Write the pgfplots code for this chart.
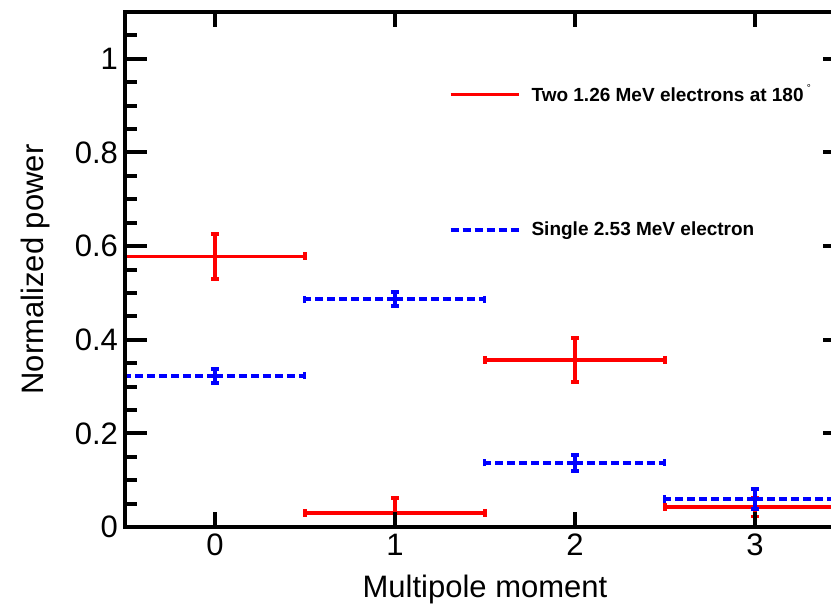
\documentclass[border=0pt]{standalone}
\usepackage{fontspec}
\setmainfont{Liberation Sans}
\usepackage{pgfplots}
\usepackage{pgfplotstable}
\pgfplotsset{compat=1.18}

% x, y, half width of multipole bin, y error
\pgfplotstableread{
x y ex ey
0 0.578 0.5 0.048
1 0.030 0.5 0.032
2 0.357 0.5 0.047
3 0.043 0.5 0.020
}\twoel
\pgfplotstableread{
x y ex ey
0 0.323 0.5 0.015
1 0.486 0.5 0.015
2 0.137 0.5 0.017
3 0.060 0.5 0.021
}\oneel

\begin{document}
\begin{tikzpicture}
\begin{axis}[
  name=ax,
  scale only axis, axis on top,
  width=360pt, height=257.5pt,
  xmin=-0.5, xmax=3.5, ymin=0, ymax=1.1,
  xtick={0,1,2,3},
  ytick={0,0.2,...,1.2},
  minor y tick num=3,
  tick align=inside,
  axis line style={line width=2pt},
  every tick/.style={black, line width=2pt},
  major tick length=11pt, minor tick length=6pt,
  xtick style={/pgfplots/major tick length=7.5pt},
  tick label style={font=\fontsize{15.5}{18}\selectfont},
  /pgf/number format/assume math mode=true,
  xlabel={Multipole moment}, ylabel={Normalized power},
  every axis y label/.style={at={(axis description cs:0,0.5)}, xshift=-45pt, rotate=90, anchor=center,
    font=\fontsize{15.5}{18}\selectfont},
  every axis x label/.style={at={(axis description cs:0.5,0)}, anchor=base, yshift=-35pt,
    font=\fontsize{15.5}{18}\selectfont},
  legend style={draw=none, fill=none, at={(axis cs:1.262,0.963)}, anchor=north west,
    row sep=54.5pt, column sep=3.5pt, font=\bfseries\fontsize{9.5}{11}\selectfont},
  legend cell align=left,
]
\addplot[draw=none, mark=none,
  legend image code/.code={\draw[red, line width=1.7pt] (0pt,0pt) -- (34pt,0pt);},
  error bars/.cd, x dir=both, x explicit, y dir=both, y explicit,
  error mark=|,
  error bar style={red, line width=1.7pt},
  error mark options={red, line width=1.7pt, mark size=2pt}]
  table[x=x, y=y, x error=ex, y error=ey] {\twoel};
\addlegendentry{Two 1.26 MeV electrons at 180\,\raisebox{5pt}{\mdseries\tiny °}}
\addplot[draw=none, mark=none,
  legend image code/.code={\draw[blue, line width=2pt, dash pattern=on 4pt off 2pt] (0pt,0pt) -- (34pt,0pt);},
  error bars/.cd, x dir=both, x explicit,
  error mark=|,
  error bar style={blue, line width=2pt, dash pattern=on 4pt off 2pt},
  error mark options={blue, solid, line width=1.5pt, mark size=1.8pt}]
  table[x=x, y=y, x error=ex] {\oneel};
\addlegendentry{Single 2.53 MeV electron}
\addplot[draw=none, mark=none, forget plot,
  error bars/.cd, y dir=both, y explicit,
  error mark=|,
  error bar style={blue, line width=2pt},
  error mark options={blue, line width=2pt, mark size=2pt}]
  table[x=x, y=y, y error=ey] {\oneel};
\end{axis}
\pgfresetboundingbox
\path[use as bounding box] ([xshift=-62.5pt,yshift=-39.5pt]ax.south west) rectangle ([xshift=353pt,yshift=6pt]ax.north west);
\end{tikzpicture}
\end{document}
